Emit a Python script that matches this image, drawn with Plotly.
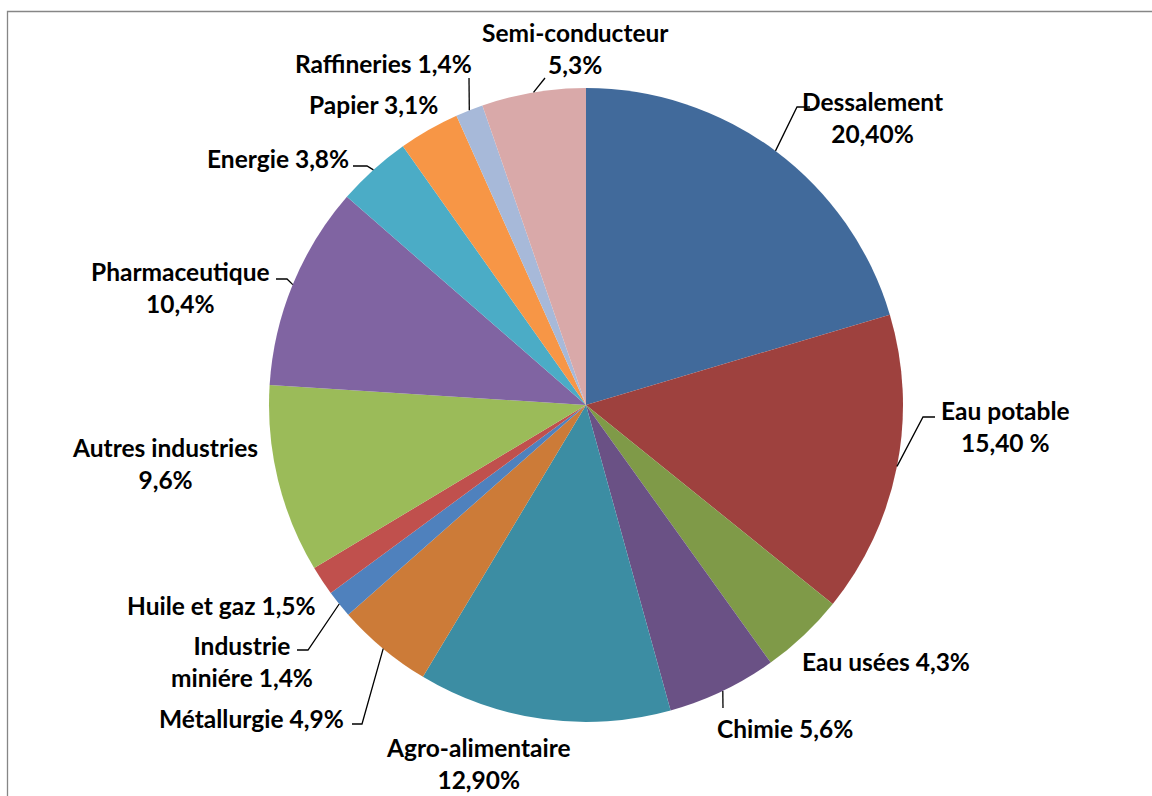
import math
import plotly.graph_objects as go

# ---- data ----
categories = ["Dessalement", "Eau potable", "Eau usées", "Chimie", "Agro-alimentaire",
              "Métallurgie", "Industrie minière", "Huile et gaz", "Autres industries",
              "Pharmaceutique", "Energie", "Papier", "Raffineries", "Semi-conducteur"]
values = [20.4, 15.4, 4.3, 5.6, 12.9, 4.9, 1.4, 1.5, 9.6, 10.4, 3.8, 3.1, 1.4, 5.3]
label_text = ["Dessalement<br>20,40%", "Eau potable<br>15,40 %", "Eau usées 4,3%",
              "Chimie 5,6%", "Agro-alimentaire<br>12,90%", "Métallurgie 4,9%",
              "Industrie<br>miniére 1,4%", "Huile et gaz 1,5%", "Autres industries<br>9,6%",
              "Pharmaceutique<br>10,4%", "Energie 3,8%", "Papier 3,1%",
              "Raffineries 1,4%", "Semi-conducteur<br>5,3%"]

# ---- style / layout ----
colors = ["#416A9B", "#9E413E", "#7F9A48", "#6A5185", "#3C8DA3", "#CC7B38",
          "#4F81BD", "#C0504D", "#9BBB59", "#8064A2", "#4BACC6", "#F79646",
          "#A7B9D9", "#D9A9A9"]
W, H = 1152, 796
CX, CY, R = 586, 405, 317

label_pos = [(872, 117), (1005, 426), (886, 661), (785, 728), (478, 763),
             (251, 718), (242, 661), (221, 605), (165, 463), (180, 287),
             (278, 158), (373, 104), (383, 63), (575, 48)]
# leader line points after the slice-edge point (None = no leader)
leaders = [[(797, 107), (810, 107)], [(923, 417), (935, 417)], None, [(723, 708)], None,
           [(362, 724), (352, 724)], [(308, 650), (297, 650)], None, None,
           [(287, 279), (276, 279)], [(367, 166), (353, 166)], None, [(469, 78)],
           [(545, 78)]]

FONT = dict(family="Lato, 'Open Sans', sans-serif", size=24.5, color="black")

fig = go.Figure()
fig.add_trace(go.Pie(
    labels=categories, values=values, sort=False, direction="clockwise", rotation=0,
    marker=dict(colors=colors, line=dict(width=0)),
    textinfo="none", hoverinfo="label+percent", showlegend=False,
    domain=dict(x=[(CX - R) / W, (CX + R) / W], y=[(H - CY - R) / H, (H - CY + R) / H]),
))

total = sum(values)
cum = 0.0
shapes = []
annotations = []
for i, v in enumerate(values):
    mid = (cum + v / 2) / total * 2 * math.pi
    cum += v
    ex = CX + R * math.sin(mid)
    ey = CY - R * math.cos(mid)
    if leaders[i]:
        pts = [(ex, ey)] + leaders[i]
        path = "M " + " L ".join(f"{x:.1f},{y:.1f}" for x, y in pts)
        shapes.append(dict(type="path", xref="x", yref="y", path=path,
                           line=dict(color="black", width=1.3)))
    lx, ly = label_pos[i]
    annotations.append(dict(x=lx, y=ly, xref="x", yref="y", text="<b>" + label_text[i] + "</b>",
                            showarrow=False, font=FONT, align="center",
                            xanchor="center", yanchor="middle"))

# chart border
shapes.append(dict(type="rect", xref="x", yref="y", x0=7.5, y0=11.5, x1=W + 10, y1=H + 10,
                   line=dict(color="#868686", width=1.3), layer="below"))

fig.update_layout(
    width=W, height=H, margin=dict(l=0, r=0, t=0, b=0),
    paper_bgcolor="white", plot_bgcolor="rgba(0,0,0,0)",
    xaxis=dict(range=[0, W], visible=False, domain=[0, 1], fixedrange=True),
    yaxis=dict(range=[H, 0], visible=False, domain=[0, 1], fixedrange=True),
    shapes=shapes, annotations=annotations,
)
fig.write_html("out.html")
